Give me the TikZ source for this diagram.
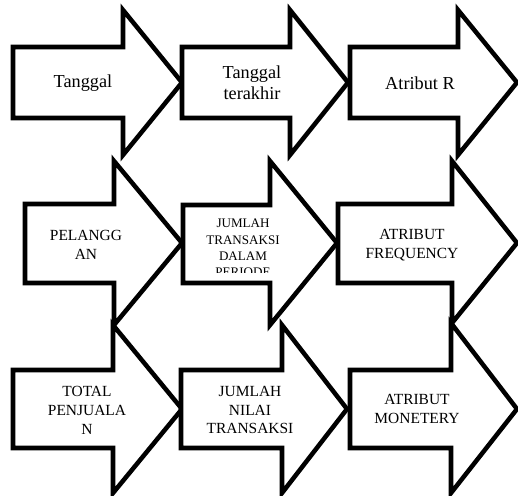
\documentclass[tikz,border=0pt]{standalone}
\usepackage{fontspec}
\setmainfont{Liberation Serif}
\usetikzlibrary{positioning}

\begin{document}
\begin{tikzpicture}[
    x=0.75pt, y=-0.75pt,
    shaft/.style={draw=black, line width=3.4pt, fill=white, line join=miter},
    txtbig/.style={align=center, inner sep=0pt, font=\fontsize{13.7}{15.8}\selectfont},
    txtmid/.style={align=center, inner sep=0pt, font=\fontsize{11.6}{14.2}\selectfont},
    txtsmall/.style={align=center, inner sep=0pt, font=\fontsize{9.8}{12.2}\selectfont},
]
    \useasboundingbox (0,0) rectangle (518,496);

    % row 1
    \draw[shaft] (13,47) -- (123,47) -- (123,10) -- (182,82.5) -- (123,155) -- (123,118) -- (13,118) -- cycle;
    \draw[shaft] (182,47) -- (290,47) -- (290,10) -- (348,82.5) -- (290,155) -- (290,118) -- (182,118) -- cycle;
    \draw[shaft] (350,47) -- (458,47) -- (458,10) -- (517,82.5) -- (458,155) -- (458,118) -- (350,118) -- cycle;
    \node[txtbig] (tgl) at (83,83) {Tanggal};
    \node[txtbig] (tglakhir) at (252,83) {Tanggal\\terakhir};
    \node[txtbig] (atrr) at (420,83) {Atribut R};

    % row 2
    \draw[shaft] (25,204) -- (114,204) -- (114,161) -- (182,243) -- (114,325) -- (114,283) -- (25,283) -- cycle;
    \draw[shaft] (183,205) -- (270,205) -- (270,161) -- (337,243) -- (270,325) -- (270,283) -- (183,283) -- cycle;
    \draw[shaft] (338,204) -- (452,204) -- (452,161) -- (517,243) -- (452,323) -- (452,283) -- (338,283) -- cycle;
    \node[txtmid] (plg) at (86,245) {PELANGG\\AN};
    \begin{scope}
        \clip (188,209) rectangle (300,272);
        \node[txtsmall] (jmltrx) at (243,248) {JUMLAH\\TRANSAKSI\\DALAM\\PERIODE};
    \end{scope}
    \node[txtmid] (atrf) at (412,245) {ATRIBUT\\FREQUENCY};

    % row 3
    \draw[shaft] (13,370) -- (113,370) -- (113,325) -- (182,409) -- (113,493) -- (113,448) -- (13,448) -- cycle;
    \draw[shaft] (181,370) -- (282,370) -- (282,325) -- (347,409) -- (282,493) -- (282,448) -- (181,448) -- cycle;
    \draw[shaft] (350,370) -- (451,370) -- (451,323) -- (517,409) -- (451,493) -- (451,448) -- (350,448) -- cycle;
    \node[txtmid] (totjual) at (87,410) {TOTAL\\PENJUALA\\N};
    \node[txtmid] (jmlnilai) at (250,410) {JUMLAH\\NILAI\\TRANSAKSI};
    \node[txtmid] (atrm) at (417,409) {ATRIBUT\\MONETERY};
\end{tikzpicture}
\end{document}
